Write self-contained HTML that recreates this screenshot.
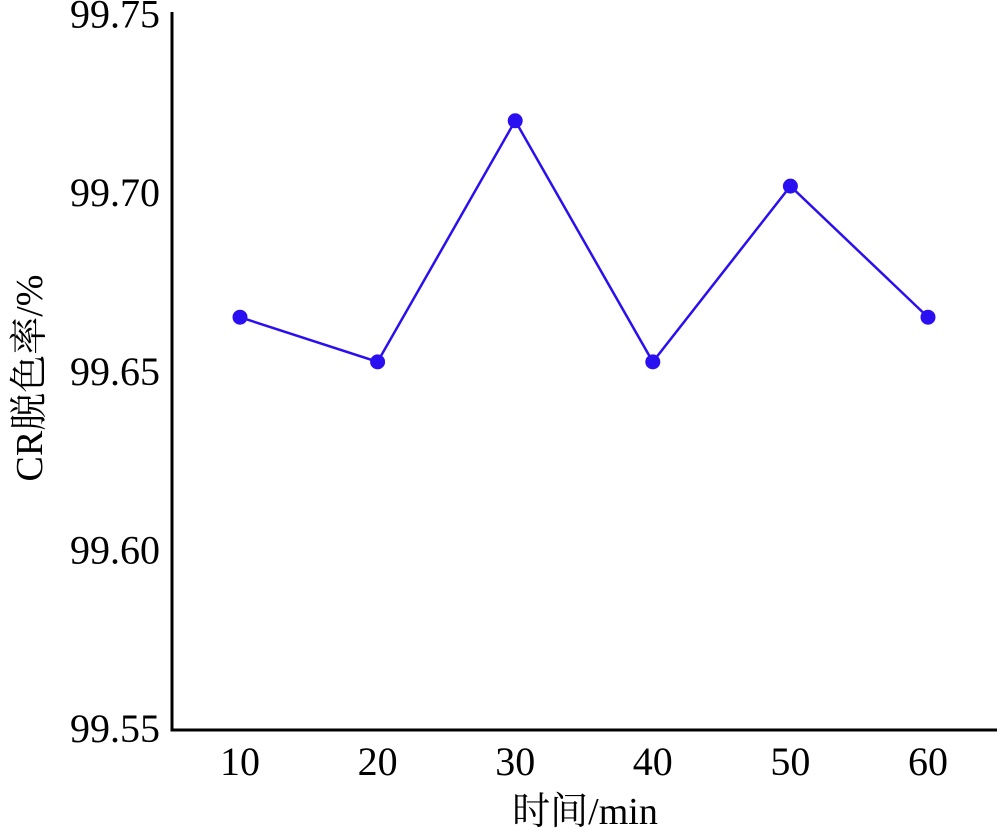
<!DOCTYPE html>
<html><head><meta charset="utf-8"><style>
html,body{margin:0;padding:0;background:#fff;}
svg{display:block;}
text{font-family:"Liberation Serif","Noto Serif CJK SC",serif;fill:#000;}
</style></head><body>
<svg id="chart" width="1000" height="833" viewBox="0 0 1000 833" xmlns="http://www.w3.org/2000/svg">
<g id="axes">
<line x1="172" y1="12" x2="172" y2="731.5" stroke="#000" stroke-width="3"/>
<line x1="170.5" y1="730" x2="997" y2="730" stroke="#000" stroke-width="3"/>
</g>
<g id="yticks"></g>
<g id="xticks"></g>
<g id="series"></g>
<text transform="translate(42,378) rotate(-90)" text-anchor="middle" font-size="38">CR脱色率/%</text>
<text x="585" y="824" text-anchor="middle" font-size="38">时间/min</text>
</svg>
<script>
const categories = [10, 20, 30, 40, 50, 60];
const values = [99.665, 99.6525, 99.720, 99.6525, 99.7017, 99.665];
const yTicks = [99.55, 99.60, 99.65, 99.70, 99.75];
const yTickLabels = ["99.55", "99.60", "99.65", "99.70", "99.75"];

const NS = "http://www.w3.org/2000/svg";
function xScale(v){ return 240 + (v - 10) * 13.76; }
function yScale(v){ return 728 - (v - 99.55) * 3572; }

const yg = document.getElementById('yticks');
yTicks.forEach((t, i) => {
  const el = document.createElementNS(NS, 'text');
  
  
  el.setAttribute('x', 160);
  el.setAttribute('y', yScale(t) + 14);
  el.setAttribute('text-anchor', 'end');
  el.setAttribute('font-size', '40');
  el.textContent = yTickLabels[i];
  yg.appendChild(el);
});
const xg = document.getElementById('xticks');
categories.forEach(c => {
  const el = document.createElementNS(NS, 'text');
  
  
  el.setAttribute('x', xScale(c));
  el.setAttribute('y', 775);
  el.setAttribute('text-anchor', 'middle');
  el.setAttribute('font-size', '40');
  el.textContent = String(c);
  xg.appendChild(el);
});
const sg = document.getElementById('series');
const line = document.createElementNS(NS, 'polyline');


line.setAttribute('points', categories.map((c, i) => xScale(c) + ',' + yScale(values[i])).join(' '));
line.setAttribute('fill', 'none');
line.setAttribute('stroke', '#2a0ff0');
line.setAttribute('stroke-width', '2.5');
sg.appendChild(line);
categories.forEach((c, i) => {
  const p = document.createElementNS(NS, 'circle');
  
  
  p.setAttribute('cx', xScale(c));
  p.setAttribute('cy', yScale(values[i]));
  p.setAttribute('r', '7.5');
  p.setAttribute('fill', '#2a0ff0');
  sg.appendChild(p);
});
</script>
</body></html>
